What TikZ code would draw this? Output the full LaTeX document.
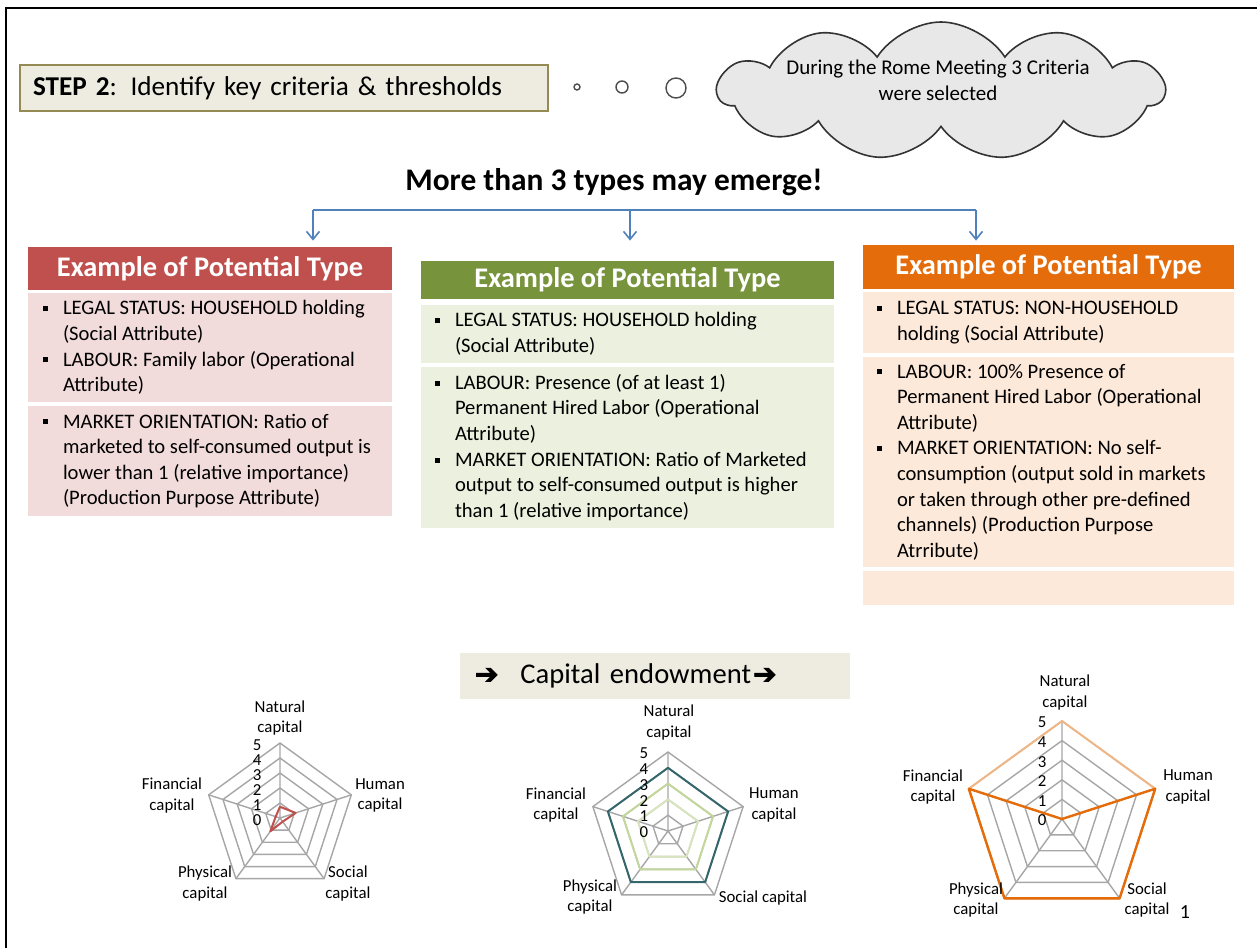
\documentclass[tikz,border=0pt]{standalone}
\usepackage{fontspec}
\setmainfont{Carlito}
\newfontfamily\symfont[FakeBold=3]{DejaVu Sans}
\usetikzlibrary{shapes.symbols,arrows.meta}

\definecolor{stepfill}{HTML}{EEECE1}
\definecolor{stepline}{HTML}{948A54}
\definecolor{cloudfill}{HTML}{E8E8E8}
\definecolor{forkblue}{HTML}{4F81BD}
\definecolor{typered}{HTML}{C0504D}
\definecolor{typeredlt}{HTML}{F2DCDB}
\definecolor{typegreen}{HTML}{77933C}
\definecolor{typegreenlt}{HTML}{EBF1DE}
\definecolor{typeorange}{HTML}{E46C0A}
\definecolor{typeorangelt}{HTML}{FDE9D9}
\definecolor{webgray}{HTML}{A6A6A6}
\definecolor{seriesteal}{HTML}{35666B}
\definecolor{serieslime}{HTML}{C3D69B}
\definecolor{seriespale}{HTML}{D7E4BD}
\definecolor{seriestan}{HTML}{F0B685}

\newcommand{\sqbullet}{\makebox[10pt][l]{\rule[1.8pt]{2.5pt}{2.5pt}}}
\newcommand{\bulindent}{\hspace*{10pt}}
\newcommand{\radarring}[2][webline]{\draw[#1] (90:#2) -- (18:#2) -- (-54:#2) -- (-126:#2) -- (162:#2) -- cycle;}
\newcommand{\radarweb}{\radarring{1}\radarring{2}\radarring{3}\radarring{4}\radarring{5}
  \draw[webline] (90:5) -- (0,0) -- (18:5) (0,0) -- (-54:5) (0,0) -- (-126:5) (0,0) -- (162:5);}
\newcommand{\radarline}[6]{\draw[#1] (90:#2) -- (18:#3) -- (-54:#4) -- (-126:#5) -- (162:#6) -- cycle;}
\newcommand{\radarticks}[3]{\path[ticklab] (#2,5-#3) node (#1t5) {5} (#2,4-#3) node (#1t4) {4}
  (#2,3-#3) node (#1t3) {3} (#2,2-#3) node (#1t2) {2} (#2,1-#3) node (#1t1) {1} (#2,-#3) node (#1t0) {0};}

\begin{document}
\begin{tikzpicture}
    [
  x=0.5pt, y=-0.5pt,
  stepbox/.style={
    draw=stepline,
    line width=0.8pt,
    fill=stepfill,
    text width=251pt,
    align=left,
    inner xsep=6.5pt,
    minimum height=23pt,
    font=\fontsize{13.6}{17}\selectfont
  },
  bubble/.style={
    circle,
    draw=black!70,
    fill=white,
    line width=0.7pt,
    inner sep=0pt
  },
  thought/.style={
    cloud,
    cloud puffs=11,
    cloud puff arc=115,
    cloud ignores aspect,
    draw=black!80,
    fill=cloudfill,
    line width=0.8pt,
    inner sep=0pt,
    minimum width=223pt,
    minimum height=69pt
  },
  typehead/.style={
    fill=#1,
    text=white,
    inner sep=0pt,
    font=\bfseries\fontsize{14.2}{17}\selectfont
  },
  typesect/.style={
    fill=#1,
    inner sep=0pt
  },
  bodytxt/.style={
    anchor=west,
    align=left,
    inner sep=0pt,
    font=\fontsize{10.3}{12.8}\selectfont
  },
  forkline/.style={
    draw=forkblue,
    line width=0.8pt,
    >={Straight Barb[length=4pt,width=6.5pt]}
  },
  capbox/.style={
    fill=stepfill,
    text width=180pt,
    align=left,
    inner xsep=7.5pt,
    minimum height=23pt,
    font=\fontsize{14.3}{17}\selectfont
  },
  webline/.style={draw=webgray, line width=0.7pt},
  series/.style={draw=#1, line width=1pt, line join=round},
  axlab/.style={font=\fontsize{8.4}{10.3}\selectfont, align=center, inner sep=0pt},
  ticklab/.style={font=\fontsize{8.4}{10}\selectfont, inner sep=0pt}
  ]
  \useasboundingbox (0,0) rectangle (1257,948);
  \draw[line width=1pt] (6,948) -- (6,8) -- (1257,8);

  \node (step) [stepbox] at (284,88) {\textbf{STEP 2}: Identify key criteria \& thresholds};
  \node (bub1) [bubble, minimum size=3pt] at (577,87) {};
  \node (bub2) [bubble, minimum size=6pt] at (622,87) {};
  \node (bub3) [bubble, minimum size=10pt] at (676,88) {};
  \node (rome) [thought] at (941,91) {};
  \node (rometxt) [font=\fontsize{10.5}{13}\selectfont, align=center] at (938,80)
    {During the Rome Meeting 3 Criteria\\were selected};

  \node (emerge) [font=\bfseries\fontsize{15.7}{19}\selectfont] at (614,182) {More than 3 types may emerge!};
  \coordinate (forkl) at (313,210);
  \coordinate (forkm) at (630,210);
  \coordinate (forkr) at (976,210);

  \node (redhead) [typehead=typered, minimum width=182pt, minimum height=21.5pt] at (210,268.5) {Example of Potential Type};
  \node (redseca) [typesect=typeredlt, minimum width=182pt, minimum height=54.5pt] at (210,347.5) {};
  \node (redsecb) [typesect=typeredlt, minimum width=182pt, minimum height=55pt] at (210,461) {};
  \node (redtxta) [bodytxt] at ([xshift=7.5pt]redseca.west)
    {\sqbullet LEGAL STATUS: HOUSEHOLD holding\\ \bulindent (Social Attribute)\\
     \sqbullet LABOUR:  Family labor (Operational\\ \bulindent Attribute)};
  \node (redtxtb) [bodytxt] at ([xshift=7.5pt]redsecb.west)
    {\sqbullet MARKET ORIENTATION:  Ratio of\\ \bulindent marketed to self-consumed  output is\\
     \bulindent lower than 1 (relative importance)\\ \bulindent (Production  Purpose Attribute)};

  \node (greenhead) [typehead=typegreen, minimum width=206.5pt, minimum height=19pt] at (627.5,280) {Example of Potential Type};
  \node (greenseca) [typesect=typegreenlt, minimum width=206.5pt, minimum height=29pt] at (627.5,334) {};
  \node (greensecb) [typesect=typegreenlt, minimum width=206.5pt, minimum height=80.5pt] at (627.5,447.5) {};
  \node (greentxta) [bodytxt] at ([xshift=7pt]greenseca.west)
    {\sqbullet LEGAL STATUS: HOUSEHOLD holding\\ \bulindent (Social Attribute)};
  \node (greentxtb) [bodytxt] at ([xshift=7pt]greensecb.west)
    {\sqbullet LABOUR:  Presence  (of at least 1)\\ \bulindent Permanent Hired  Labor (Operational\\
     \bulindent Attribute)\\ \sqbullet MARKET ORIENTATION:  Ratio of Marketed\\
     \bulindent output to self-consumed  output is higher\\ \bulindent than 1 (relative importance)};

  \node (orangehead) [typehead=typeorange, minimum width=185.5pt, minimum height=22pt] at (1048.5,267) {Example of Potential Type};
  \node (orangeseca) [typesect=typeorangelt, minimum width=185.5pt, minimum height=30.5pt] at (1048.5,322.5) {};
  \node (orangesecb) [typesect=typeorangelt, minimum width=185.5pt, minimum height=105pt] at (1048.5,462) {};
  \node (orangesecc) [typesect=typeorangelt, minimum width=185.5pt, minimum height=17pt] at (1048.5,588) {};
  \node (orangetxta) [bodytxt] at ([xshift=7pt]orangeseca.west)
    {\sqbullet LEGAL STATUS: NON-HOUSEHOLD\\ \bulindent holding (Social Attribute)};
  \node (orangetxtb) [bodytxt] at ([xshift=7pt]orangesecb.west)
    {\sqbullet LABOUR:  100\% Presence of\\ \bulindent Permanent Hired  Labor (Operational\\
     \bulindent Attribute)\\ \sqbullet MARKET ORIENTATION:  No self-\\
     \bulindent consumption  (output  sold in markets\\ \bulindent or taken through other pre-defined\\
     \bulindent channels) (Production  Purpose\\ \bulindent Atrribute)};

  \draw[forkline] (forkl) -- (forkr);
  \draw[forkline, ->, shorten >=3pt] (forkl) -- (forkl |- redhead.north);
  \draw[forkline, ->, shorten >=10pt] (forkm) -- (forkm |- greenhead.north);
  \draw[forkline, ->, shorten >=2pt] (forkr) -- (forkr |- orangehead.north);

  \node (capital) [capbox] at (655,676)
    {{\symfont\fontsize{14}{15}\selectfont ➔}\hspace{11pt}Capital endowment\hspace{1pt}{\symfont\fontsize{14}{15}\selectfont ➔}};

  \begin{scope}[shift={(280,818)}, yscale=-1, scale=15]
    \radarweb
    \radarline{series=typered}{0.75}{1.1}{0.3}{1.1}{0.3}
    \radarticks{a}{-1.53}{0.15}
    \node (nata) [axlab] at (0,6.67) {Natural\\capital};
    \node (huma) [axlab] at (6.67,1.5) {Human\\capital};
    \node (fina) [axlab] at (-7.2,1.5) {Financial\\capital};
    \node (phya) [axlab] at (-5,-4.37) {Physical\\capital};
    \node (soca) [axlab] at (4.53,-4.37) {Social\\capital};
  \end{scope}

  \begin{scope}[shift={(668,831)}, yscale=-1, scale=15.8]
    \radarweb
    \radarline{series=seriespale}{2}{2}{2}{2}{2}
    \radarline{series=serieslime}{3}{3}{3}{3}{3}
    \radarline{series=seriesteal}{4}{4}{4}{4}{4}
    \radarticks{b}{-1.52}{0.08}
    \node (natb) [axlab] at (0.06,6.87) {Natural\\capital};
    \node (humb) [axlab] at (6.71,1.65) {Human\\capital};
    \node (finb) [axlab] at (-7.09,1.65) {Financial\\capital};
    \node (phyb) [axlab] at (-4.94,-4.18) {Physical\\capital};
    \node (socb) [axlab] at (6.01,-4.24) {Social capital};
  \end{scope}

  \begin{scope}[shift={(1062,819)}, yscale=-1, scale=19.6]
    \radarweb
    \radarline{series=seriestan}{5}{5}{5}{5}{5}
    \radarline{series=typeorange, line width=1.2pt}{0}{5}{5}{5}{5}
    \radarticks{c}{-1.02}{0.08}
    \node (natc) [axlab] at (0.15,6.45) {Natural\\capital};
    \node (humc) [axlab] at (6.43,1.63) {Human\\capital};
    \node (finc) [axlab] at (-6.58,1.63) {Financial\\capital};
    \node (phyc) [axlab] at (-4.39,-4.13) {Physical\\capital};
    \node (socc) [axlab] at (4.34,-4.13) {Social\\capital};
  \end{scope}
  \node (slideno) [font=\fontsize{10}{12}\selectfont] at (1185,912) {1};
\end{tikzpicture}
\end{document}
